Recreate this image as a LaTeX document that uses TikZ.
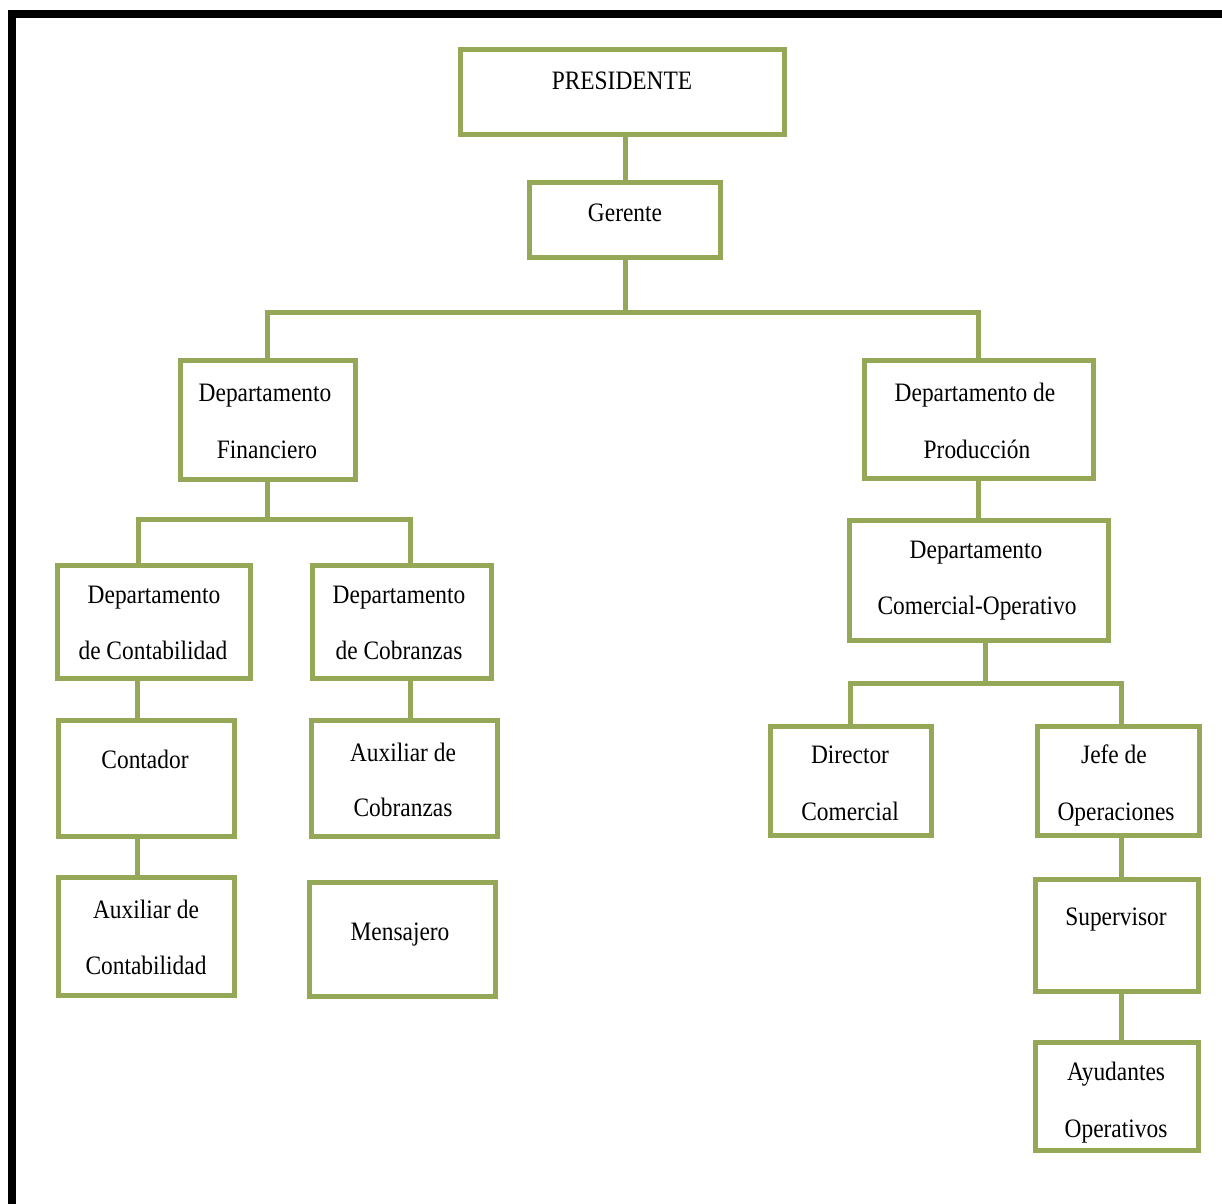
\documentclass[tikz,border=0pt]{standalone}
\usepackage{fontspec}
\usetikzlibrary{fit}
\newfontfamily\boxfont[FakeStretch=0.88]{Liberation Serif}
\definecolor{boxgreen}{RGB}{148,168,88}
\tikzset{
  box/.style={draw=boxgreen, line width=2.5pt, fill=white, inner sep=0pt, rectangle},
  link/.style={draw=boxgreen, line width=2.5pt},
  lbl/.style={font=\boxfont\fontsize{13.3}{15}\selectfont, anchor=base, inner sep=0pt},
}
\begin{document}
\begin{tikzpicture}[x=0.5pt, y=-0.5pt]
\useasboundingbox (0,0) rectangle (1222,1204);

% frame
\fill[black] (8,10) rectangle (1222,18);
\fill[black] (8,10) rectangle (16,1204);

% branch levels and connector columns
\coordinate (lvA) at (0,312);
\coordinate (lvB) at (138,519);
\coordinate (colCob) at (410,0);
\coordinate (colCont) at (137,0);
\coordinate (lvC) at (985,683);
\coordinate (colJefe) at (1121,0);

% boxes
\node[box, fit={(460.5,50) (784.5,135)}] (pres) {};
\node[box, fit={(529.5,182.5) (720.5,257.5)}] (ger) {};
\node[box, fit={(180,360) (355,479)}] (fin) {};
\node[box, fit={(864,360) (1093,478)}] (prod) {};
\node[box, fit={(57,565) (250,678)}] (contab) {};
\node[box, fit={(312,565) (491,678)}] (cobr) {};
\node[box, fit={(58,720) (234,836)}] (cont) {};
\node[box, fit={(58,877) (234,995)}] (auxcont) {};
\node[box, fit={(311,720) (497,836)}] (auxcobr) {};
\node[box, fit={(309,882) (495,996)}] (mens) {};
\node[box, fit={(849,520) (1108,640)}] (comop) {};
\node[box, fit={(770,726) (931,835)}] (dir) {};
\node[box, fit={(1037,726) (1199,835)}] (jefe) {};
\node[box, fit={(1035,879) (1198,991)}] (sup) {};
\node[box, fit={(1035,1042) (1198,1150)}] (ayud) {};

% connectors
\draw[link] (ger.north) -- (ger.north |- pres.south);
\draw[link] (ger.south) -- (ger.south |- lvA);
\draw[link] (fin.north) |- (ger.south |- lvA) -| (prod.north);
\draw[link] (fin.south) -- (fin.south |- lvB);
\draw[link] (contab.north -| lvB) |- (fin.south |- lvB) -| (contab.north -| colCob);
\draw[link] (contab.south -| colCont) -- (cont.north -| colCont);
\draw[link] (cont.south -| colCont) -- (auxcont.north -| colCont);
\draw[link] (cobr.south -| colCob) -- (auxcobr.north -| colCob);
\draw[link] (prod.south) -- (comop.north -| prod.south);
\draw[link] (comop.south -| lvC) -- (lvC);
\draw[link] (dir.north) |- (lvC) -| (jefe.north -| colJefe);
\draw[link] (jefe.south -| colJefe) -- (sup.north -| colJefe);
\draw[link] (sup.south -| colJefe) -- (ayud.north -| colJefe);

% labels
\node[lbl] (tpres) at (622,90) {PRESIDENTE};
\node[lbl] (tger) at (625,221) {Gerente};
\node[lbl] (tfin1) at (265,401) {Departamento};
\node[lbl] (tfin2) at (267,458) {Financiero};
\node[lbl] (tprod1) at (975,401) {Departamento de};
\node[lbl] (tprod2) at (977,458) {Producción};
\node[lbl] (tcontab1) at (154,603) {Departamento};
\node[lbl] (tcontab2) at (153,659) {de Contabilidad};
\node[lbl] (tcobr1) at (399,603) {Departamento};
\node[lbl] (tcobr2) at (399,659) {de Cobranzas};
\node[lbl] (tcont) at (145,768) {Contador};
\node[lbl] (tauxcont1) at (146,918) {Auxiliar de};
\node[lbl] (tauxcont2) at (146,974) {Contabilidad};
\node[lbl] (tauxcobr1) at (403,761) {Auxiliar de};
\node[lbl] (tauxcobr2) at (403,816) {Cobranzas};
\node[lbl] (tmens) at (400,940) {Mensajero};
\node[lbl] (tcomop1) at (976,558) {Departamento};
\node[lbl] (tcomop2) at (977,614) {Comercial-Operativo};
\node[lbl] (tdir1) at (850,763) {Director};
\node[lbl] (tdir2) at (850,820) {Comercial};
\node[lbl] (tjefe1) at (1114,763) {Jefe de};
\node[lbl] (tjefe2) at (1116,820) {Operaciones};
\node[lbl] (tsup) at (1116,925) {Supervisor};
\node[lbl] (tayud1) at (1116,1080) {Ayudantes};
\node[lbl] (tayud2) at (1116,1137) {Operativos};
\end{tikzpicture}
\end{document}
